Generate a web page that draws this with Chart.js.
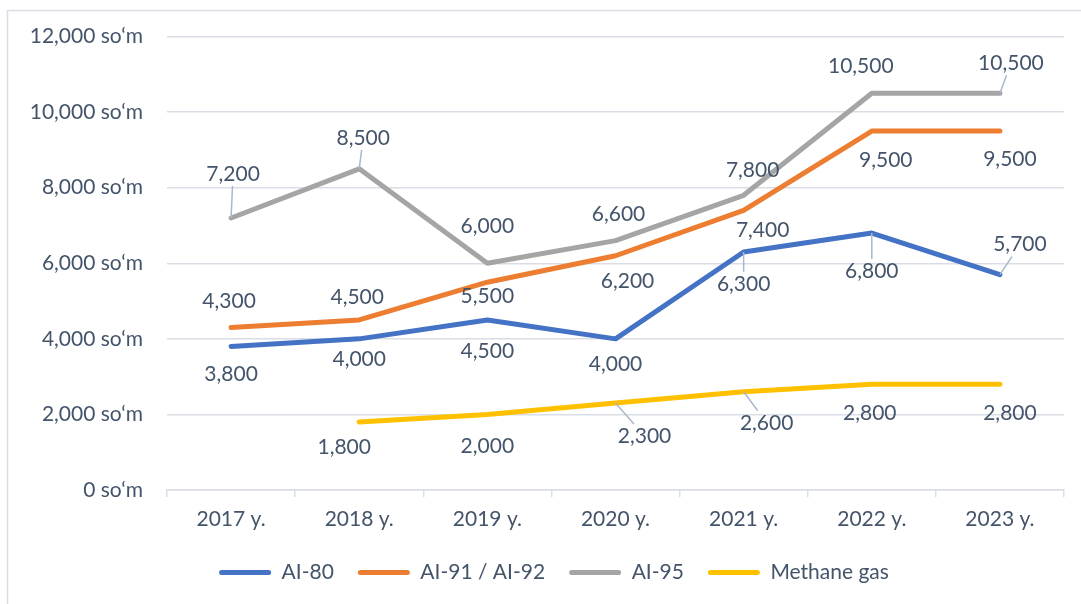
<!DOCTYPE html>
<html>
<head>
<meta charset="utf-8">
<script src="https://cdn.jsdelivr.net/npm/chart.js@4/dist/chart.umd.min.js"></script>
<style>
  html, body { margin: 0; padding: 0; background: #fff; }
  #wrap { width: 1081px; height: 604px; position: relative; }
</style>
</head>
<body>
<div id="wrap"><canvas id="chart" width="1081" height="604"></canvas></div>
<script>
// data
const years = ["2017 y.", "2018 y.", "2019 y.", "2020 y.", "2021 y.", "2022 y.", "2023 y."];
const ai80 = [3800, 4000, 4500, 4000, 6300, 6800, 5700];
const ai92 = [4300, 4500, 5500, 6200, 7400, 9500, 9500];
const ai95 = [7200, 8500, 6000, 6600, 7800, 10500, 10500];
const methane = [null, 1800, 2000, 2300, 2600, 2800, 2800];
const yTicks = [0, 2000, 4000, 6000, 8000, 10000, 12000];

// label placement relative to each point: [dx, dy, leader line?]
const labelPos = [
  [[0, 28], [0, 20], [0, 31], [0, 25], [0, 32, 1], [0, 38, 1], [20, -30, 1]],
  [[-2, -26], [-2, -23], [0, 14], [12, 25], [19, 20], [14, 29], [10, 28]],
  [[2, -44, 1], [4, -31, 1], [0, -37], [3, -26], [9, -25], [-11, -27], [11, -30, 1]],
  [null, [-15, 25], [0, 32], [29, 33, 1], [23, 31, 1], [-2, 29], [10, 29]]
];

const textColor = "#44546A";
const font = "Lato, 'Open Sans', sans-serif";
const fontSize = 21;

const frame = {
  id: "frame",
  afterLayout(chart) {
    // legend sits a bit right of centre in the original
    chart.legend.left += 18;
    chart.legend.right += 18;
  },
  beforeDraw(chart) {
    const c = chart.ctx;
    c.save();
    c.strokeStyle = "#D9DEE6";
    c.lineWidth = 1.5;
    c.beginPath();
    c.moveTo(7.5, 604);
    c.lineTo(7.5, 10.5);
    c.lineTo(1081, 10.5);
    c.stroke();
    c.restore();
  }
};

const valueLabels = {
  id: "valueLabels",
  afterDatasetsDraw(chart) {
    const c = chart.ctx;
    c.save();
    c.font = fontSize + "px " + font;
    c.textAlign = "center";
    c.textBaseline = "middle";
    chart.data.datasets.forEach((ds, di) => {
      const meta = chart.getDatasetMeta(di);
      ds.data.forEach((v, i) => {
        const pos = labelPos[di][i];
        if (v == null || !pos) return;
        const pt = meta.data[i];
        const lx = pt.x + pos[0], ly = pt.y + pos[1];
        const txt = v.toLocaleString("en-US");
        if (pos[2]) {
          const hw = c.measureText(txt).width / 2 + 3, hh = 12;
          const ddx = pt.x - lx, ddy = pt.y - ly;
          const t = Math.min(hw / Math.abs(ddx || 1e-6), hh / Math.abs(ddy || 1e-6));
          c.strokeStyle = "#A9B8CC";
          c.lineWidth = 1.5;
          c.beginPath();
          c.moveTo(pt.x, pt.y);
          c.lineTo(lx + ddx * t, ly + ddy * t);
          c.stroke();
        }
        c.fillStyle = textColor;
        c.fillText(txt, lx, ly);
      });
    });
    c.restore();
  }
};

function line(label, data, color) {
  return {
    label: label,
    data: data,
    borderColor: color,
    backgroundColor: color,
    borderWidth: 5,
    borderCapStyle: "round",
    borderJoinStyle: "round",
    pointRadius: 0,
    pointHoverRadius: 0,
    tension: 0,
    spanGaps: false
  };
}

new Chart(document.getElementById("chart"), {
  type: "line",
  data: {
    labels: years,
    datasets: [
      line("AI-80", ai80, "#4472C4"),
      line("AI-91 / AI-92", ai92, "#ED7D31"),
      line("AI-95", ai95, "#A5A5A5"),
      line("Methane gas", methane, "#FFC000")
    ]
  },
  options: {
    responsive: false,
    animation: false,
    events: [],
    layout: { padding: { left: 8, right: 17, top: 35, bottom: 11 } },
    scales: {
      x: {
        offset: true,
        grid: { display: true, offset: true, drawOnChartArea: false, drawTicks: true, tickLength: 7, color: "#D9DEE6", lineWidth: 1.5 },
        border: { display: true, color: "#D9DEE6", width: 1.5 },
        ticks: { color: textColor, font: { family: font, size: fontSize }, padding: 10 },
        afterFit(scale) { scale.height = 48; }
      },
      y: {
        min: 0,
        max: 12000,
        afterBuildTicks(scale) { scale.ticks = yTicks.map(v => ({ value: v })); },
        grid: { color: "#D9DEE6", lineWidth: 1.5, drawTicks: false },
        border: { display: false },
        ticks: {
          color: textColor,
          font: { family: font, size: fontSize },
          padding: 24,
          callback: v => v.toLocaleString("en-US") + " so\u2018m"
        },
        afterFit(scale) { scale.width = 159; }
      }
    },
    plugins: {
      tooltip: { enabled: false },
      legend: {
        position: "bottom",
        labels: {
          color: textColor,
          font: { family: font, size: fontSize },
          boxWidth: 52,
          boxHeight: 5,
          useBorderRadius: true,
          borderRadius: 2.5,
          padding: 24,
          generateLabels(chart) {
            return Chart.defaults.plugins.legend.labels.generateLabels(chart).map(l => Object.assign(l, { lineWidth: 0 }));
          }
        }
      }
    }
  },
  plugins: [frame, valueLabels]
});
</script>
</body>
</html>
